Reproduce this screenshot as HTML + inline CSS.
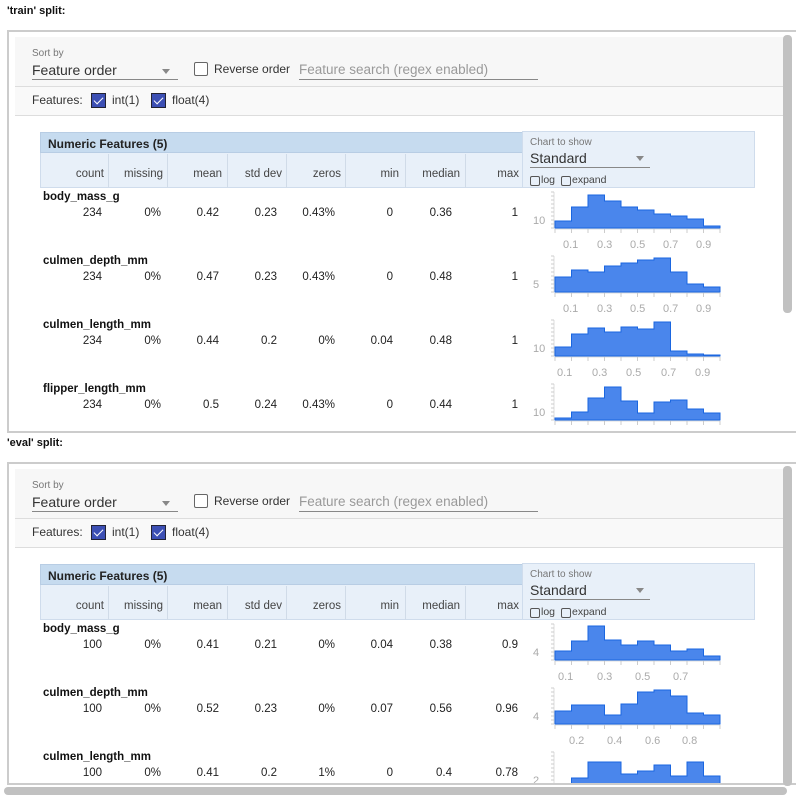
<!DOCTYPE html>
<html><head><meta charset="utf-8"><style>
*{margin:0;padding:0;box-sizing:border-box}
body{width:796px;height:797px;overflow:hidden;background:#fff;font-family:"Liberation Sans",Arial,sans-serif;position:relative;color:#222}
.a{position:absolute;white-space:nowrap}
.split{font-size:11px;font-weight:bold;color:#111}
.panel{position:absolute;left:7px;width:789px;border:2px solid #ccc;border-right:none;overflow:hidden;background:#fff}
.ctrl{position:absolute;left:6px;width:770px;height:84px;background:#f7f7f7;border-bottom:1px solid #ddd}
.sm{font-size:10px;color:#777}
.sel{font-size:14px;color:#333}
.cb{position:absolute;width:14px;height:14px;border:1.5px solid #666;border-radius:2px;background:#fff}
.cbc{position:absolute;width:15px;height:15px;background:#3c4fb4;border:1px solid #223;}
.cbc:after{content:"";position:absolute;left:4px;top:1px;width:4px;height:8px;border:solid #fff;border-width:0 1.5px 1.5px 0;transform:rotate(45deg)}
.t12{font-size:12px;color:#333}
.hdr{position:absolute;left:31px;width:483px;height:21px;background:#c6dbef;border:1px solid #b8cde4;font-size:12px;font-weight:bold;padding:4px 7px;color:#222}
.hdr2{position:absolute;left:31px;width:483px;height:35px;background:#e8f0f9;border:1px solid #cfdcec;border-top:none}
.hl{position:absolute;top:16px;font-size:11.5px;color:#444;text-align:right}
.chart{position:absolute;left:513px;width:233px;height:57px;background:#e8f0f9;border:1px solid #cfdcec}
.name{font-size:11.5px;font-weight:bold;color:#111}
.v{font-size:11.5px;color:#222;text-align:right;width:60px}
.tl{font-size:11px;color:#aaa}
</style></head><body>
<div class="a split" style="left:7px;top:5px">'train' split:</div>
<div class="a split" style="left:7px;top:437px">'eval' split:</div>
<div id="p0" class="panel" style="top:30px;height:403px"></div>
<div id="p1" class="panel" style="top:462px;height:323px"></div>
<div class="a" style="left:4px;top:787px;width:783px;height:8px;border-radius:4px;background:#c1c1c1"></div>
<div class="a" style="left:783px;top:35px;width:9px;height:278px;border-radius:4px;background:#c1c1c1"></div>
<div class="a" style="left:783px;top:466px;width:9px;height:320px;border-radius:4px;background:#c1c1c1"></div>
<script>
const splits=[
 {rows:[["body_mass_g","234","0%","0.42","0.23","0.43%","0","0.36","1"],
        ["culmen_depth_mm","234","0%","0.47","0.23","0.43%","0","0.48","1"],
        ["culmen_length_mm","234","0%","0.44","0.2","0%","0.04","0.48","1"],
        ["flipper_length_mm","234","0%","0.5","0.24","0.43%","0","0.44","1"]],
  hist:[[7,21,33,27,21,18,14,12,9,2],[15,22,20,26,29,32,34,20,8,5],[9,22,28,24,29,27,34,5,2,1],[2,8,22,33,19,7,18,20,11,7]],
  ylab:["10","5","10","10"],
  xl:[[["0.1",571],["0.3",605],["0.5",638],["0.7",671],["0.9",704]],[["0.1",571],["0.3",605],["0.5",638],["0.7",671],["0.9",704]],[["0.1",565],["0.3",600],["0.5",634],["0.7",669],["0.9",703]],[]]},
 {rows:[["body_mass_g","100","0%","0.41","0.21","0%","0.04","0.38","0.9"],
        ["culmen_depth_mm","100","0%","0.52","0.23","0%","0.07","0.56","0.96"],
        ["culmen_length_mm","100","0%","0.41","0.2","1%","0","0.4","0.78"]],
  hist:[[9,19,34,20,15,19,15,9,11,4],[13,19,19,9,20,32,34,28,11,9],[1,10,26,26,14,17,23,12,26,12]],
  ylab:["4","4","2"],
  xl:[[["0.1",566],["0.3",605],["0.5",643],["0.7",681]],[["0.2",577],["0.4",615],["0.6",653],["0.8",690]],[]]}
];
const heads=["count","missing","mean","std dev","zeros","min","median","max"];
const colR=[104,163,222,282,341,399,460,519];
const divs=[108,167,227,286,345,405,465];
splits.forEach((s,i)=>{
 const p=document.getElementById("p"+i);const ox=9;
 const Y=(y)=>y-32;
 let h=`<div class="ctrl" style="top:5px;height:50px"></div><div class="ctrl" style="top:55px;height:29px;background:#f9f9f9"></div>
 <div class="a sm" style="left:${32-ox}px;top:${Y(48)}px">Sort by</div>
 <div class="a sel" style="left:${32-ox}px;top:${Y(62)}px">Feature order</div>
 <div class="a" style="left:${32-ox}px;top:${Y(79)}px;width:146px;height:1px;background:#888"></div>
 <div class="a" style="left:${162-ox}px;top:${Y(69)}px;border:4px solid transparent;border-top:5px solid #888"></div>
 <div class="cb" style="left:${194-ox}px;top:${Y(62)}px"></div>
 <div class="a t12" style="left:${214-ox}px;top:${Y(62)}px">Reverse order</div>
 <div class="a sel" style="left:${299-ox}px;top:${Y(62)}px;color:#999;font-size:13.5px">Feature search (regex enabled)</div>
 <div class="a" style="left:${299-ox}px;top:${Y(79)}px;width:239px;height:1px;background:#888"></div>
 <div class="a t12" style="left:${32-ox}px;top:${Y(93)}px">Features:</div>
 <div class="cbc" style="left:${91-ox}px;top:${Y(93)}px"></div>
 <div class="a t12" style="left:${112-ox}px;top:${Y(93)}px">int(1)</div>
 <div class="cbc" style="left:${151-ox}px;top:${Y(93)}px"></div>
 <div class="a t12" style="left:${172-ox}px;top:${Y(93)}px">float(4)</div>
 <div class="hdr" style="top:${Y(132)}px">Numeric Features (5)</div>
 <div class="hdr2" style="top:${Y(153)}px"></div>
 <div class="chart" style="top:${Y(131)}px"></div>
 <div class="a sm" style="left:${530-ox}px;top:${Y(137)}px">Chart to show</div>
 <div class="a sel" style="left:${530-ox}px;top:${Y(150)}px">Standard</div>
 <div class="a" style="left:${530-ox}px;top:${Y(167)}px;width:120px;height:1px;background:#888"></div>
 <div class="a" style="left:${636-ox}px;top:${Y(156)}px;border:4px solid transparent;border-top:5px solid #888"></div>
 <div class="a" style="left:${530-ox}px;top:${Y(176)}px;width:10px;height:10px;border:1px solid #555;border-radius:2px"></div>
 <div class="a" style="left:${541-ox}px;top:${Y(174)}px;font-size:10.5px;color:#444">log</div>
 <div class="a" style="left:${561-ox}px;top:${Y(176)}px;width:10px;height:10px;border:1px solid #555;border-radius:2px"></div>
 <div class="a" style="left:${572-ox}px;top:${Y(174)}px;font-size:10.5px;color:#444">expand</div>`;
 divs.forEach(d=>h+=`<div class="a" style="left:${d-ox}px;top:${Y(154)}px;width:1px;height:34px;background:#d0dbe8"></div>`);
 heads.forEach((t,k)=>h+=`<div class="a hl" style="left:${colR[k]-70-ox}px;width:70px;top:${Y(168)}px">${t}</div>`);
 const vR=[102,161,219,277,335,393,452,518];
 let svg=`<svg class="a" style="left:0;top:0" width="789" height="420">`;
 s.rows.forEach((r,j)=>{
  const ry=198+64*j;
  h+=`<div class="a name" style="left:${43-ox}px;top:${Y(ry-7)}px">${r[0]}</div>`;
  for(let k=1;k<9;k++) h+=`<div class="a v" style="left:${vR[k-1]-60-ox}px;top:${Y(ry+9)}px">${r[k]}</div>`;
  const base=228+64*j-32, x0=555-ox, bw=16.5, hs=s.hist[j];
  svg+=`<line x1="${x0-1}" y1="${base-36}" x2="${x0-1}" y2="${base}" stroke="#ddd"/>`;
  for(let t=0;t<10;t++) svg+=`<line x1="${x0-4}" y1="${base-36+t*4}" x2="${x0-1}" y2="${base-36+t*4}" stroke="#ccc"/>`;
  svg+=`<line x1="${x0}" y1="${base+1}" x2="${x0+165}" y2="${base+1}" stroke="#ddd"/>`;
  for(let t=0;t<=10;t++) svg+=`<line x1="${x0+t*bw}" y1="${base+1}" x2="${x0+t*bw}" y2="${base+5}" stroke="#ccc"/>`;
  let d=`M${x0} ${base}`;
  hs.forEach((v,b)=>{d+=` L${x0+b*bw} ${base-v} L${x0+(b+1)*bw} ${base-v}`});
  d+=` L${x0+165} ${base} Z`;
  svg+=`<path d="${d}" fill="#4a86ec" stroke="#1a66e0" stroke-width="1"/>`;
  h+=`<div class="a tl" style="left:${533-ox}px;top:${base-13}px">${s.ylab[j]}</div>`;
  s.xl[j].forEach(([t,x])=>h+=`<div class="a tl" style="left:${x-8-ox}px;top:${base+11}px">${t}</div>`);
 });
 svg+=`</svg>`;
 p.innerHTML=h+svg;
});
</script>
</body></html>
